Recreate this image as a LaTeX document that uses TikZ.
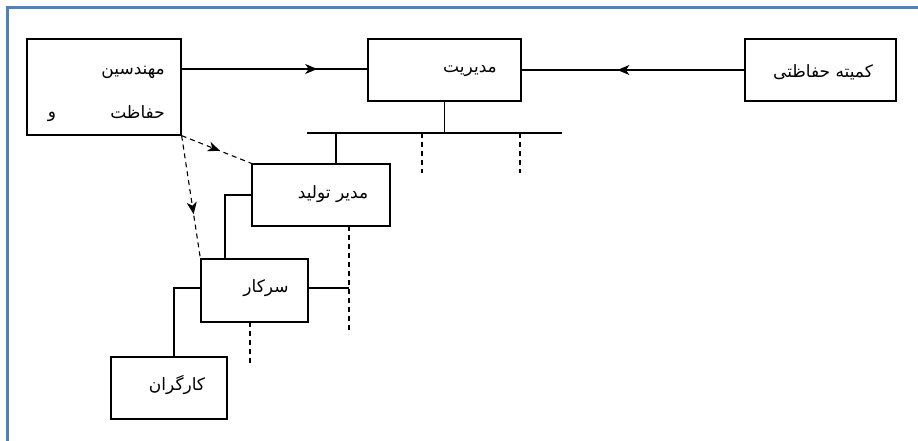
\documentclass[tikz,border=0pt]{standalone}
\usepackage{fontspec}
\newfontfamily\arabicfont[Script=Arabic]{DejaVu Sans}
\TeXXeTstate=1
\usetikzlibrary{arrows.meta,decorations.markings}
\definecolor{frameblue}{RGB}{79,129,189}
\tikzset{
  box/.style={draw,line width=1.3pt,rectangle,inner sep=0pt},
  lbl/.style={font=\arabicfont\fontsize{17}{19}\selectfont,inner sep=0pt},
  conn/.style={line width=1.1pt},
  dconn/.style={line width=1.1pt,dash pattern=on 5pt off 4pt},
  midarrow/.style={postaction={decorate},decoration={markings,mark=at position #1 with {\arrow{Stealth[length=12pt,width=10pt,inset=3.5pt]}}}}
}
\begin{document}
\begin{tikzpicture}[x=1pt,y=-1pt]
\useasboundingbox (0,0) rectangle (918,440);
\draw[frameblue,line width=3pt] (7,445) -- (7,7) -- (925,7);
% boxes
\node[box,minimum width=154pt,minimum height=96pt] (moh) at (104,87) {};
\node[box,minimum width=153pt,minimum height=62pt] (mod) at (444.5,70) {};
\node[box,minimum width=151pt,minimum height=62pt] (kom) at (820.5,70) {};
\node[box,minimum width=138pt,minimum height=62pt] (tol) at (321,195) {};
\node[box,minimum width=107pt,minimum height=63pt] (sar) at (254.5,290.5) {};
\node[box,minimum width=116pt,minimum height=62pt] (kar) at (169,388) {};
% labels
\node[lbl,anchor=east] (t1) at (165,72) {\beginR مهندسین\endR};
\node[lbl,anchor=east] (t2) at (165,112) {\beginR حفاظت\endR};
\node[lbl] (t3) at (52,117) {\beginR و\endR};
\node[lbl] (t4) at (470,71) {\beginR مدیریت\endR};
\node[lbl] (t5) at (823,72) {\beginR کمیته حفاظتی\endR};
\node[lbl] (t6) at (333,194) {\beginR مدیر تولید\endR};
\node[lbl] (t7) at (266,288) {\beginR سرکار\endR};
\node[lbl] (t8) at (177,385) {\beginR کارگران\endR};
% coordinates
\coordinate (bl) at (307,133);
\coordinate (br) at (562,133);
\coordinate (b1) at (336,133);
\coordinate (b2) at (422,133);
\coordinate (b2e) at (422,173);
\coordinate (b3) at (520,133);
\coordinate (b3e) at (520,173);
\coordinate (c1) at (225,195);
\coordinate (c2) at (174,288);
\coordinate (d1) at (349,226);
\coordinate (d1e) at (349,334);
\coordinate (d2) at (250,322);
\coordinate (d2e) at (250,364);
% connectors
\draw[conn,midarrow=0.73] (moh.east |- 0,69) -- (mod.west |- 0,69);
\draw[conn,midarrow=0.57] (kom.west) -- (mod.east);
\draw[conn] (bl) -- (br);
\draw[conn] (mod.south) -- (mod.south |- bl);
\draw[conn] (b1) -- (b1 |- tol.north);
\draw[dconn] (b2) -- (b2e);
\draw[dconn] (b3) -- (b3e);
\draw[conn] (tol.west) -- (c1) -- (c1 |- sar.north);
\draw[conn] (sar.east |- 0,288) -- (d1 |- 0,288);
\draw[dconn] (d1) -- (d1e);
\draw[dconn] (d2) -- (d2e);
\draw[conn] (sar.west |- c2) -- (c2) -- (c2 |- kar.north);
\draw[dconn,midarrow=0.55] (moh.south east) -- (tol.north west);
\draw[dconn,midarrow=0.64] (moh.south east) -- (sar.north west);
\end{tikzpicture}
\end{document}
